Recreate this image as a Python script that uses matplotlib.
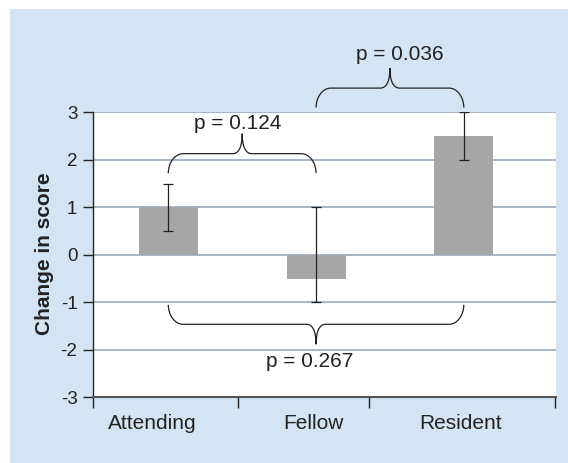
import numpy as np
import matplotlib
matplotlib.use("Agg")
import matplotlib.pyplot as plt
from matplotlib.path import Path
from matplotlib.patches import PathPatch, Rectangle

plt.rcParams['font.family'] = ['Liberation Sans', 'DejaVu Sans']
plt.rcParams['axes.unicode_minus'] = False

# data
groups = ['Attending', 'Fellow', 'Resident']
change = [1.0, -0.5, 2.5]
err_low = [0.5, 0.5, 0.5]
err_high = [0.5, 1.5, 0.5]
pairs = [(0, 1), (1, 2), (0, 2)]
pvals = ['p = 0.124', 'p = 0.036', 'p = 0.267']

# layout of the braces (base level, direction, text offset)
brace_base = [1.72, 3.1, -1.05]
brace_dir = [1, 1, -1]
text_dx = [-0.03, 0.066, -0.04]
text_y = [2.76, 4.22, -2.24]

blue = '#d3e5f4'
grid_c = '#8ea0b2'
ink = '#222222'

fig = plt.figure(figsize=(5.68, 4.63), dpi=100)
fig.patch.set_facecolor('white')
fig.patches.append(Rectangle((10 / 568, 0), 1, 1 - 9 / 463, transform=fig.transFigure,
                             facecolor=blue, edgecolor='none', zorder=-10))

ax = fig.add_axes([0.1632, 0.1415, 0.8151, 0.6159])
ax.set_facecolor('white')
x = np.arange(len(groups))

ax.bar(x, change, width=0.4, color='#a6a6a6', zorder=2)
ax.errorbar(x, change, yerr=[err_low, err_high], fmt='none', ecolor=ink,
            elinewidth=0.9, capsize=3.5, capthick=0.9, zorder=3)

ax.set_xlim(-0.512, 2.622)
ax.set_ylim(-3, 3)
ax.set_yticks(range(-3, 4))
for yv in range(-2, 4):
    ax.axhline(yv, color=grid_c, lw=1.1, zorder=1)

for s in ['top', 'right']:
    ax.spines[s].set_visible(False)
ax.spines['left'].set_color(ink)
ax.spines['left'].set_linewidth(1.0)
ax.spines['bottom'].set_color('#555555')
ax.spines['bottom'].set_linewidth(1.5)

ax.set_xticks(x + np.array([-0.11, -0.02, -0.02]))
ax.set_xticklabels(groups, fontsize=15, color=ink)
ax.tick_params(axis='x', which='major', length=0, pad=12)
ax.set_xticks([-0.512, 0.472, 1.359, 2.619], minor=True)
ax.tick_params(axis='x', which='minor', length=8, width=1.0, color=ink, direction='out')
ax.tick_params(axis='y', length=7, width=1.0, color=ink, labelsize=13.5, labelcolor=ink, pad=4)

ax.set_ylabel('Change in score', fontsize=15, fontweight='bold', color=ink)
ax.yaxis.set_label_coords(-0.083, 0.505)


def brace(ax, x0, x1, base, d, arm=0.41, tip=0.42, r1=0.1, r2=0.065):
    xm = (x0 + x1) / 2
    yf = base + d * arm
    yt = yf + d * tip
    verts = [
        (x0, base), (x0, base + d * arm * 0.55), (x0 + r1 * 0.45, yf), (x0 + r1, yf),
        (xm - r2, yf),
        (xm - r2 * 0.35, yf), (xm, yf + d * tip * 0.35), (xm, yt),
        (xm, yf + d * tip * 0.35), (xm + r2 * 0.35, yf), (xm + r2, yf),
        (x1 - r1, yf),
        (x1 - r1 * 0.45, yf), (x1, base + d * arm * 0.55), (x1, base),
    ]
    codes = [Path.MOVETO, Path.CURVE4, Path.CURVE4, Path.CURVE4,
             Path.LINETO,
             Path.CURVE4, Path.CURVE4, Path.CURVE4,
             Path.CURVE4, Path.CURVE4, Path.CURVE4,
             Path.LINETO,
             Path.CURVE4, Path.CURVE4, Path.CURVE4]
    ax.add_patch(PathPatch(Path(verts, codes), facecolor='none', edgecolor=ink,
                           lw=0.9, clip_on=False, zorder=4))
    return xm


for (a, b), p, base, d, dx, ty in zip(pairs, pvals, brace_base, brace_dir, text_dx, text_y):
    xm = brace(ax, x[a], x[b], base, d)
    ax.text(xm + dx, ty, p, ha='center', va='center', fontsize=15, color=ink, clip_on=False)

fig.savefig('out.png', dpi=100)
